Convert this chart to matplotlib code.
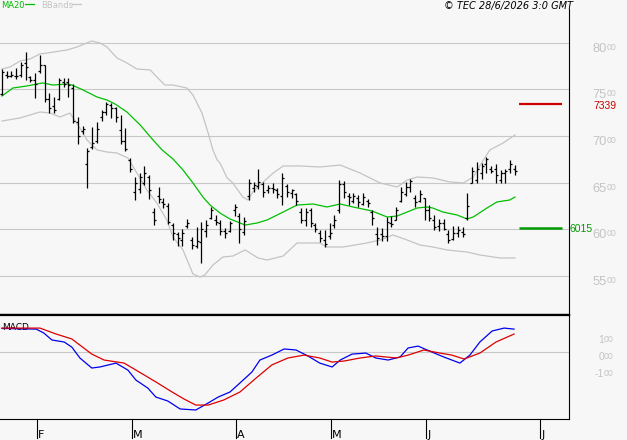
import matplotlib
matplotlib.use("Agg")
import matplotlib.pyplot as plt
from matplotlib import transforms
from matplotlib.lines import Line2D

# ---------------- data ----------------
opens = [7450, 7660, 7650, 7650, 7660, 7780, 7630, 7600, 7700, 7760,
         7400, 7320, 7400, 7580, 7580, 7520, 7150, 7050, 6700, 6880,
         6950, 7200, 7260, 7330, 7300, 7060, 6950, 6740, 6400, 6430,
         6500, 6560, 6180, 6350, 6290, 6250, 6040, 5950, 5880, 6030,
         5880, 5820, 5860, 5980, 6120, 6100, 6060, 5980, 5980, 6200,
         6140, 5970, 6350, 6440, 6460, 6480, 6420, 6440, 6420, 6360,
         6460, 6390, 6380, 6180, 6100, 6200, 6040, 5960, 5880, 5920,
         6040, 6200, 6480, 6350, 6300, 6330, 6270, 6300, 6180, 5950,
         5950, 5920, 6060, 6100, 6300, 6380, 6450, 6330, 6300, 6330,
         6200, 6100, 6030, 6060, 5950, 5890, 5960, 5970, 6120, 6500,
         6530, 6600, 6700, 6640, 6640, 6530, 6600, 6650, 6640]
highs = [7720, 7700, 7700, 7730, 7795, 7905, 7645, 7675, 7870, 7765,
         7460, 7420, 7625, 7625, 7625, 7560, 7205, 7105, 6870, 7095,
         7150, 7280, 7365, 7355, 7310, 7225, 7085, 6765, 6560, 6600,
         6675, 6580, 6225, 6450, 6335, 6280, 6065, 5970, 6000, 6110,
         5915, 6020, 6075, 6095, 6235, 6150, 6095, 6010, 6085, 6270,
         6170, 6130, 6540, 6505, 6645, 6505, 6475, 6495, 6440, 6600,
         6485, 6430, 6385, 6225, 6225, 6225, 6065, 5990, 5990, 6065,
         6150, 6525, 6515, 6385, 6385, 6365, 6385, 6325, 6205, 6020,
         6010, 6130, 6140, 6235, 6450, 6505, 6540, 6365, 6420, 6335,
         6260, 6150, 6110, 6110, 5990, 6030, 6030, 6020, 6385, 6665,
         6720, 6710, 6775, 6675, 6700, 6635, 6645, 6740, 6690]
lows = [7440, 7625, 7635, 7615, 7635, 7600, 7580, 7410, 7675, 7365,
        7245, 7245, 7385, 7525, 7420, 7140, 6915, 7020, 6440, 6860,
        6925, 7160, 7225, 7195, 7150, 6915, 6840, 6615, 6310, 6385,
        6475, 6325, 6045, 6280, 6225, 6055, 5880, 5815, 5815, 6010,
        5785, 5795, 5635, 5915, 6110, 6045, 5935, 5905, 5970, 6140,
        5850, 5935, 6310, 6400, 6430, 6345, 6385, 6385, 6335, 6260,
        6345, 6335, 6260, 6065, 6035, 6020, 5970, 5860, 5805, 5895,
        6010, 6170, 6335, 6260, 6280, 6235, 6260, 6235, 6045, 5830,
        5870, 5870, 6020, 6095, 6290, 6355, 6400, 6235, 6290, 6095,
        6085, 5990, 5980, 5990, 5850, 5880, 5915, 5915, 6095, 6495,
        6495, 6540, 6600, 6600, 6495, 6495, 6495, 6600, 6580]
closes = [7690, 7640, 7660, 7640, 7760, 7740, 7600, 7560, 7760, 7400,
          7300, 7280, 7600, 7560, 7550, 7160, 7000, 7080, 6840, 6920,
          7080, 7260, 7340, 7300, 7200, 6950, 6860, 6640, 6500, 6560,
          6600, 6420, 6100, 6320, 6270, 6080, 5960, 5900, 5960, 6070,
          5830, 5870, 6000, 6040, 6200, 6080, 5980, 5960, 6060, 6240,
          6000, 6090, 6500, 6470, 6510, 6400, 6440, 6430, 6380, 6550,
          6400, 6420, 6300, 6100, 6180, 6060, 6000, 5900, 5840, 5960,
          6100, 6480, 6400, 6340, 6360, 6290, 6340, 6280, 6120, 5900,
          5930, 6080, 6050, 6200, 6400, 6450, 6520, 6290, 6380, 6200,
          6120, 6020, 6060, 6000, 5880, 5960, 5990, 5950, 6250, 6620,
          6640, 6680, 6750, 6620, 6580, 6600, 6620, 6700, 6620]

# MA20 (bar index, value)
ma_idx = [0, 2.3, 5.3, 7.4, 8.6, 10.7, 13.7, 14.7, 17.1, 20, 22.1, 23.8, 26.3,
          29.1, 31.8, 33.7, 36, 38.1, 40.2, 42.3, 43.8, 45.9, 48, 51.2, 53.7,
          55.8, 59.2, 62.1, 65.5, 68.4, 71.2, 73.9, 77.9, 81.1, 83.2, 85.3,
          87.4, 89.5, 90.7, 92.8, 95.8, 97.9, 99.2, 102.1, 104.2, 106.9, 108]
ma_val = [7430, 7516, 7538, 7559, 7570, 7548, 7559, 7548, 7494, 7419, 7387, 7344,
          7258, 7118, 6957, 6850, 6753, 6635, 6495, 6344, 6258, 6172, 6108, 6043,
          6065, 6097, 6183, 6258, 6269, 6237, 6269, 6237, 6194, 6129, 6140, 6183,
          6226, 6237, 6226, 6183, 6151, 6108, 6129, 6226, 6291, 6312, 6344]

# Bollinger bands
bbu_idx = [0, 1.7, 3.8, 5.9, 8, 9.5, 13.7, 15.8, 18.9, 20.6, 22.1, 24.2, 26.3,
           28.4, 31.2, 32.6, 34.3, 36, 38.9, 40.2, 42.1, 43.4, 44.4, 45.3, 45.9,
           47.4, 48.6, 50.7, 51.8, 52.8, 55, 57.1, 59.2, 62.7, 66.9, 71.2, 75.4,
           79.6, 83.2, 85.3, 87.4, 90.7, 94.3, 97.1, 99.2, 101.1, 102.7, 105.5, 108]
bbu_val = [7720, 7742, 7806, 7828, 7882, 7892, 7925, 7957, 8021, 8000, 7957, 7839,
           7785, 7720, 7710, 7634, 7548, 7548, 7516, 7441, 7247, 7032, 6850, 6742,
           6710, 6549, 6495, 6344, 6312, 6398, 6506, 6602, 6678, 6678, 6667, 6688,
           6602, 6495, 6452, 6527, 6559, 6549, 6506, 6495, 6559, 6720, 6850, 6925,
           7011]
bbl_idx = [0, 3.8, 8, 10.1, 12.2, 14.3, 16, 17.9, 20, 22.1, 24.2, 26.5, 28.4,
           30.5, 32.6, 34.7, 36, 38.1, 40.2, 41.7, 42.7, 44.4, 46.5, 48.6, 51.2,
           53.9, 55.8, 59.2, 62.1, 66.9, 68.4, 71.8, 76.8, 79.6, 82.3, 85.3, 88,
           90.7, 93.7, 97.9, 100.6, 104.8, 108]
bbl_val = [7161, 7194, 7258, 7247, 7204, 7247, 7118, 6957, 6850, 6828, 6817, 6764,
           6602, 6420, 6280, 6097, 5914, 5775, 5517, 5484, 5506, 5613, 5699, 5710,
           5775, 5689, 5667, 5710, 5850, 5850, 5807, 5807, 5850, 5882, 5936, 5882,
           5828, 5807, 5775, 5753, 5721, 5689, 5689]

# MACD (blue) and signal (red)
macd_idx = [0, 7.2, 8.8, 10.5, 13.1, 14.7, 16.4, 18.9, 20.6, 24, 26.5, 28.2,
            30.7, 32.4, 34.9, 37.5, 40.8, 43.4, 45.5, 48, 50.1, 52.6, 54.3,
            56.8, 59.4, 61.9, 64.4, 66.9, 69.5, 71.2, 73.7, 76.6, 78.7, 81.3,
            83.8, 85.5, 87.6, 90.5, 93, 96.4, 98.5, 100.6, 103.2, 105.7, 107.8]
macd_val = [136, 132, 109, 68, 56, 26, -38, -97, -91, -68, -109, -168, -215,
            -268, -291, -338, -344, -303, -268, -238, -185, -121, -50, -21, 15,
            9, -26, -68, -91, -50, -15, -9, -38, -50, -32, 21, 32, -3, -32, -68,
            -21, 56, 121, 138, 132]
sig_idx = [0, 8, 11.4, 14.7, 16.4, 18.9, 21.5, 25.7, 28.2, 32.4, 35.8, 38.3,
           40.8, 43.4, 46.7, 50.1, 53.5, 56.8, 60.2, 63.6, 66.9, 69.5, 72, 75.4,
           78.7, 83, 85.5, 88.8, 92.2, 94.7, 97.3, 100.6, 104, 107.8]
sig_val = [138, 138, 103, 74, 38, -15, -50, -68, -109, -179, -238, -279, -315,
           -315, -285, -238, -156, -79, -38, -21, -38, -62, -56, -38, -26, -38,
           -21, 9, -9, -21, -44, -9, 56, 103]

price_levels = [5500, 6000, 6500, 7000, 7500, 8000]
macd_levels = [100, 0, -100]
macd_labels = ["1", "0", "-1"]
month_labels = ["F", "M", "A", "M", "J", "J"]
month_idx = [7, 27, 49, 69, 89, 113]
resistance = 7339
support = 6015

# ---------------- style ----------------
BG = "#f7f7f7"
GRID = "#c8c8c8"
LABEL = "#c4c4c4"
GREEN = "#00c000"
BAND = "#c4c4c4"
BLUE = "#0000ee"
RED = "#dd0000"

W, H = 627, 440
fig = plt.figure(figsize=(W / 100, H / 100), dpi=100, facecolor=BG)


def rect(x0, y0, x1, y1):
    return [x0 / W, 1 - y1 / H, (x1 - x0) / W, (y1 - y0) / H]


ax = fig.add_axes(rect(0, 9, 569, 315))
axm = fig.add_axes(rect(0, 315, 569, 419))
for a in (ax, axm):
    a.set_facecolor(BG)
    a.set_xlim(-0.42, 119.37)
    a.set_xticks([])
    a.set_yticks([])
    for s in a.spines.values():
        s.set_visible(False)
ax.set_ylim(5076, 8365)
axm.set_ylim(-397, 215)

ax.spines["right"].set_visible(True)
ax.spines["right"].set_linewidth(0.8)
ax.spines["bottom"].set_visible(True)
ax.spines["bottom"].set_linewidth(1.6)
axm.spines["top"].set_visible(True)
axm.spines["top"].set_linewidth(1.6)
axm.spines["right"].set_visible(True)
axm.spines["right"].set_linewidth(0.8)
axm.spines["bottom"].set_visible(True)
axm.spines["bottom"].set_linewidth(0.8)

# grid
for v in price_levels:
    ax.axhline(v, color=GRID, lw=0.8, zorder=0)
axm.axhline(0, color=GRID, lw=0.8, zorder=0)

# bars
idx = list(range(len(closes)))
ax.vlines(idx, lows, highs, color="black", lw=0.9, zorder=3)
ax.hlines(opens, [i - 0.42 for i in idx], idx, color="black", lw=0.9, zorder=3)
ax.hlines(closes, idx, [i + 0.42 for i in idx], color="black", lw=0.9, zorder=3)

# indicators
ax.plot(bbu_idx, bbu_val, color=BAND, lw=0.9, zorder=2)
ax.plot(bbl_idx, bbl_val, color=BAND, lw=0.9, zorder=2)
ax.plot(ma_idx, ma_val, color=GREEN, lw=0.9, zorder=2)

last = idx[-1]
ax.hlines(resistance, last + 0.8, last + 9.9, color="#cc0000", lw=1.6, zorder=3)
ax.hlines(support, last + 0.8, last + 9.9, color="#009900", lw=1.8, zorder=3)

# price labels
bt = transforms.blended_transform_factory(fig.transFigure, ax.transData)
for v in price_levels:
    ax.text(607 / W, v, f"{v // 100}", transform=bt, ha="right", va="top",
            fontsize=9.3, family="Liberation Sans", color=LABEL, clip_on=False)
    ax.text(607 / W, v, "00", transform=bt, ha="left", va="top",
            fontsize=6.3, family="Liberation Sans", color=LABEL, clip_on=False)
bt_down = transforms.offset_copy(bt, fig=fig, x=0, y=-1.5, units="dots")
ax.text(593.5 / W, resistance, f"{resistance}", transform=bt_down, ha="left",
        va="center", fontsize=7.5, family="Liberation Sans", color="#cc0000")
ax.text(569.5 / W, support, f"{support}", transform=bt_down, ha="left",
        va="center", fontsize=7.5, family="Liberation Sans", color="#009900")

bm = transforms.blended_transform_factory(fig.transFigure, axm.transData)
for v, lab in zip(macd_levels, macd_labels):
    ax.text(604 / W, v, lab, transform=bm, ha="right", va="top", fontsize=7.5,
            family="Liberation Sans", color=LABEL, clip_on=False)
    ax.text(604 / W, v, "00", transform=bm, ha="left", va="top",
            fontsize=6.3, family="Liberation Sans", color=LABEL, clip_on=False)

# MACD lines
axm.text(2 / 569, 0.925, "MACD", transform=axm.transAxes, ha="left", va="top",
         fontsize=6.5, color="black", zorder=1)
axm.plot(macd_idx, macd_val, color=BLUE, lw=0.9, zorder=3)
axm.plot(sig_idx, sig_val, color=RED, lw=0.9, zorder=3)

# month ticks
mt = transforms.blended_transform_factory(axm.transData, axm.transAxes)
yb = -(438 - 419) / 104
for lab, m in zip(month_labels, month_idx):
    axm.add_line(Line2D([m + 0.3, m + 0.3], [0, yb], transform=mt, color="black",
                        lw=0.8, clip_on=False))
    axm.text(m + 0.55, yb, lab, transform=mt, ha="left", va="baseline",
             fontsize=8, color="black", clip_on=False)

# title and legend
fig.text(573 / W, 1 - 0.5 / H, "\u00a9 TEC 28/6/2026 3:0 GMT", ha="right", va="top",
         fontsize=7, style="italic", color="black")
fig.text(1 / W, 1 - 1 / H, "MA20", ha="left", va="top", fontsize=6, color=GREEN)
fig.add_artist(Line2D([25 / W, 34 / W], [1 - 4.5 / H] * 2, color=GREEN, lw=0.9))
fig.text(41 / W, 1 - 1 / H, "BBands", ha="left", va="top", fontsize=6, color=BAND)
fig.add_artist(Line2D([72 / W, 81 / W], [1 - 4.5 / H] * 2, color=BAND, lw=0.9))

fig.savefig("out.png", dpi=100, facecolor=BG)
